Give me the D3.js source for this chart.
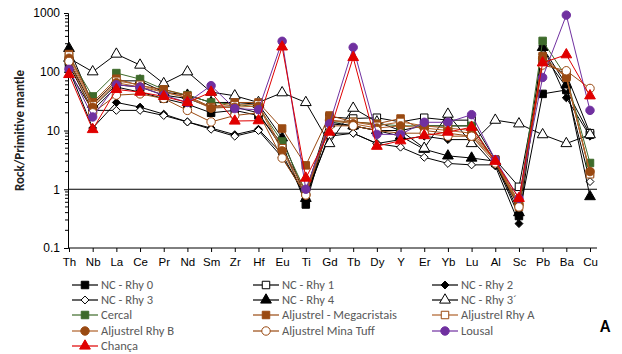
<!DOCTYPE html>
<html>
<head>
<meta charset="utf-8">
<script src="https://cdn.jsdelivr.net/npm/d3@7"></script>
<style>
  body { margin: 0; background: #fff; }
  svg { font-family: Calibri, Carlito, "Liberation Sans", "Open Sans", sans-serif; }
</style>
</head>
<body>
<div id="chart"></div>
<script>
// Spider diagram, primitive-mantle normalised.
const elements = ["Th","Nb","La","Ce","Pr","Nd","Sm","Zr","Hf","Eu","Ti","Gd","Tb","Dy","Y","Er","Yb","Lu","Al","Sc","Pb","Ba","Cu"];
const yTicks = [0.1, 1, 10, 100, 1000];

const rhy0   = [130, 22, 55, 45, 35, 28, 20, 22, 18, 6, 0.55, 14, 12, 10, 10, 12, 12, 12, 2.8, 0.35, 42, 49, 8.5];
const rhy1   = [150, 25, 60, 55, 40, 35, 25, 25, 20, 5, 0.9, 17, 16, 16.5, 14, 16.5, 15, 15, 3.2, 1.1, 150, 90, 9];
const rhy2   = [110, 11, 30, 25, 19, 14, 11, 8.5, 10.5, 4, 0.7, 9, 9, 6, 7, 8, 7, 7, 2.5, 0.26, 275, 36, 8];
const rhy3   = [100, 22, 22, 22, 18, 14, 10.5, 8, 10, 3.5, 0.8, 8, 9, 6, 5.2, 3.5, 2.75, 2.6, 2.6, 0.5, 200, 55, 1.35];
const rhy4   = [250, 28, 70, 70, 45, 40, 30, 30, 28, 7.5, 0.7, 13, 12, 10, 8, 4.8, 3.7, 3.4, 3.0, 0.4, 260, 60, 0.75];
const rhy3b  = [170, 100, 200, 130, 63, 100, 45, 39, 30, 44, 30, 6, 24, 14, 10, 5, 19, 6, 15, 13, 8.5, 6, 8.5];
const cercal = [180, 38, 95, 75, 50, 40, 30, 28, 25, 6.5, 0.9, 14, 14, 13, 12, 12, 12, 12, 3, 0.6, 335, 82, 2.8];
const aljMeg = [200, 30, 76, 58, 50, 39, 25, 30, 30, 10.8, 2.55, 18, 14, 13, 16, 10, 9, 8, 3.2, 0.5, 185, 80, 1.9];
const aljA   = [190, 27, 70, 60, 45, 37, 25, 27, 28, 5, 0.9, 15, 14, 12, 14, 12, 11, 10, 3, 0.6, 160, 85, 1.8];
const aljB   = [170, 25, 65, 55, 45, 36, 24, 25, 26, 4.5, 0.8, 15, 13, 11, 12, 11, 10, 9, 3, 0.55, 170, 80, 2];
const aljTuff= [150, 20, 40, 42, 35, 22, 14, 18, 20, 3.4, 0.8, 12, 12, 10, 9, 9, 8, 8, 2.8, 0.5, 130, 104, 52];
const lousal = [110, 17, 60, 55, 40, 30, 58, 23.6, 22.6, 330, 1.0, 13, 260, 8.6, 8.6, 13.8, 13.8, 18.6, 3.2, 0.7, 80, 920, 22];
const chanca = [90, 10.4, 50, 45, 38, 30, 45, 14.5, 14.7, 265, 1.55, 9.4, 175, 5.4, 6.7, 8.2, 9.4, 11.4, 3, 0.7, 142, 195, 39];

const BR = "#9a4a12", BRL = "#b0612a";
const series = [
  { name: "NC - Rhy 0", v: rhy0, shape: "square", fill: "#000", stroke: "#000", line: "#000" },
  { name: "NC - Rhy 1", v: rhy1, shape: "square", fill: "#fff", stroke: "#000", line: "#000" },
  { name: "NC - Rhy 2", v: rhy2, shape: "diamond", fill: "#000", stroke: "#000", line: "#000" },
  { name: "NC - Rhy 3", v: rhy3, shape: "diamond", fill: "#fff", stroke: "#000", line: "#000" },
  { name: "NC - Rhy 4", v: rhy4, shape: "triangle", fill: "#000", stroke: "#000", line: "#000" },
  { name: "NC - Rhy 3\u00b4", v: rhy3b, shape: "triangle", fill: "#fff", stroke: "#000", line: "#000" },
  { name: "Cercal", v: cercal, shape: "square", fill: "#3e6b2b", stroke: "#3e6b2b", line: "#3e6b2b" },
  { name: "Aljustrel - Megacristais", v: aljMeg, shape: "square", fill: BR, stroke: BR, line: BR },
  { name: "Aljustrel Rhy A", v: aljA, shape: "square", fill: "#fff", stroke: BR, line: BRL },
  { name: "Aljustrel Rhy B", v: aljB, shape: "circle", fill: BR, stroke: BR, line: BRL },
  { name: "Aljustrel Mina Tuff", v: aljTuff, shape: "circle", fill: "#fff", stroke: BR, line: BR },
  { name: "Lousal", v: lousal, shape: "circle", fill: "#7030a0", stroke: "#7030a0", line: "#7030a0" },
  { name: "Chan\u00e7a", v: chanca, shape: "triangle", fill: "#e00000", stroke: "#e00000", line: "#e00000" }
];

const W = 622, H = 354;
const plot = { left: 68, right: 597, top: 13, bottom: 248 };
const svg = d3.select("#chart").append("svg").attr("width", W).attr("height", H);

const x = d3.scalePoint().domain(elements).range([69, 590]);
const y = d3.scaleLog().domain([0.1, 1000]).range([plot.bottom, plot.top]);

// axes
const yAxis = svg.append("g").attr("transform", `translate(${plot.left},0)`)
  .call(d3.axisLeft(y).tickValues(yTicks).tickFormat(d3.format("~g")).tickSize(4));
yAxis.select(".domain").attr("stroke", "#000");
yAxis.selectAll("text").attr("font-size", 12).attr("fill", "#000").attr("dx", -1);
// minor ticks
const minors = [];
for (let e = -1; e < 3; e++) for (let m = 2; m <= 9; m++) minors.push(m * Math.pow(10, e));
svg.append("g").selectAll("line").data(minors).join("line")
  .attr("x1", plot.left - 3).attr("x2", plot.left)
  .attr("y1", d => y(d)).attr("y2", d => y(d)).attr("stroke", "#000");

const xAxis = svg.append("g").attr("transform", `translate(0,${plot.bottom})`)
  .call(d3.axisBottom(x).tickSize(4).tickPadding(6));
xAxis.select(".domain").attr("d", `M${plot.left},0H${plot.right}`).attr("stroke", "#000");
xAxis.selectAll("text").attr("font-size", 11.5).attr("fill", "#000");

// reference line at 1
svg.append("line").attr("x1", plot.left).attr("x2", plot.right)
  .attr("y1", y(1)).attr("y2", y(1)).attr("stroke", "#000").attr("stroke-width", 1);

svg.append("text").attr("transform", `translate(24,${(plot.top + plot.bottom) / 2}) rotate(-90)`)
  .attr("text-anchor", "middle").attr("font-size", 13).attr("font-weight", "bold")
  .attr("fill", "#222").text("Rock/Primitive mantle");

const symbolType = { square: d3.symbolSquare, diamond: d3.symbolDiamond2, triangle: d3.symbolTriangle, circle: d3.symbolCircle };
const symbolSize = { square: 56, diamond: 40, triangle: 50, circle: 56 };
function marker(g, s) {
  return g.append("path").attr("d", d3.symbol(symbolType[s.shape], symbolSize[s.shape])())
    .attr("fill", s.fill).attr("stroke", s.stroke).attr("stroke-width", 1);
}

const line = d3.line().x((d, i) => x(elements[i])).y(d => y(d));
series.forEach(s => {
  const g = svg.append("g");
  g.append("path").datum(s.v).attr("d", line).attr("fill", "none")
    .attr("stroke", s.line).attr("stroke-width", 1);
  s.v.forEach((v, i) => {
    marker(g, s).attr("transform", `translate(${x(elements[i])},${y(v)})`);
  });
});

// legend
const legCols = [72, 253, 432], legRows = [285, 300, 315, 331, 346];
const leg = svg.append("g");
series.forEach((s, i) => {
  const lx = legCols[i % 3], ly = legRows[Math.floor(i / 3)];
  leg.append("line").attr("x1", lx).attr("x2", lx + 26).attr("y1", ly).attr("y2", ly)
    .attr("stroke", s.line).attr("stroke-width", 1.2);
  marker(leg, s).attr("transform", `translate(${lx + 13},${ly})`);
  leg.append("text").attr("x", lx + 29).attr("y", ly).attr("dy", "0.35em")
    .attr("font-size", 12.5).attr("fill", "#595959").text(s.name);
});

svg.append("text").attr("x", 600).attr("y", 332).attr("font-size", 17)
  .attr("font-weight", "bold").text("A");
</script>
</body>
</html>
